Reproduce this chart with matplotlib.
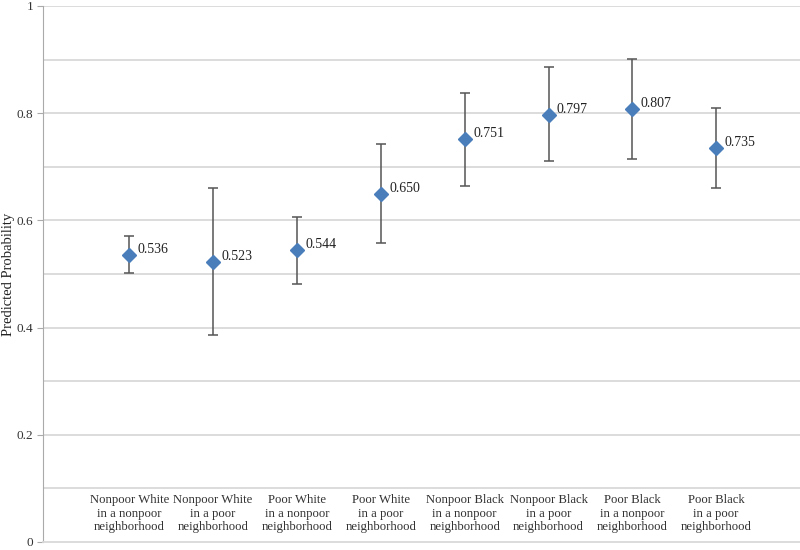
import matplotlib
matplotlib.use("Agg")
import matplotlib.pyplot as plt
import numpy as np

categories = [
    "Nonpoor White\nin a nonpoor\nneighborhood",
    "Nonpoor White\nin a poor\nneighborhood",
    "Poor White\nin a nonpoor\nneighborhood",
    "Poor White\nin a poor\nneighborhood",
    "Nonpoor Black\nin a nonpoor\nneighborhood",
    "Nonpoor Black\nin a poor\nneighborhood",
    "Poor Black\nin a nonpoor\nneighborhood",
    "Poor Black\nin a poor\nneighborhood",
]
values = [0.536, 0.523, 0.544, 0.650, 0.751, 0.797, 0.807, 0.735]
upper = [0.571, 0.660, 0.607, 0.742, 0.837, 0.887, 0.901, 0.809]
lower = [0.501, 0.387, 0.481, 0.557, 0.665, 0.710, 0.714, 0.661]
yticks = [0, 0.2, 0.4, 0.6, 0.8, 1]
ytick_labels = ["0", "0.2", "0.4", "0.6", "0.8", "1"]

plt.rcParams['font.family'] = ['Liberation Serif', 'DejaVu Serif']

fig = plt.figure(figsize=(8, 5.5), dpi=100)
ax = fig.add_axes([43/800, 8/550, 757/800, 536/550])

x = np.arange(len(values))
vals = np.array(values)
err = np.vstack([vals - np.array(lower), np.array(upper) - vals])

# gridlines every 0.1
for g in np.arange(0.1, 1.01, 0.1):
    ax.axhline(g, color="#d9d9d9", lw=1.3, zorder=0)

ax.errorbar(x, vals, yerr=err, fmt="none", ecolor="#555555", elinewidth=1.1,
            capsize=3.5, capthick=1.1, zorder=2)
ax.plot(x, vals, linestyle="none", marker="D", markersize=6.8,
        color="#4a7ebb", markeredgecolor="#4a7ebb", zorder=3)

for xi, v in zip(x, values):
    ax.annotate(f"{v:.3f}", (xi, v), xytext=(6, 4), textcoords="offset points",
                fontsize=10, color="#222222", ha="left", va="center")

for xi, c in zip(x, categories):
    ax.text(xi, 0.053, c, ha="center", va="center", fontsize=9.2,
            color="#333333", linespacing=1.2)

ax.set_xlim(-1.03, 8.0)
ax.set_ylim(0, 1)
ax.set_yticks(yticks)
ax.set_yticklabels(ytick_labels, fontsize=9.5, color="#333333")
ax.set_xticks([])
ax.tick_params(axis="y", length=4, color="#aaaaaa", pad=3)

for s in ["top", "right"]:
    ax.spines[s].set_visible(False)
ax.spines["left"].set_color("#aaaaaa")
ax.spines["bottom"].set_color("#d9d9d9")
ax.spines["bottom"].set_linewidth(1.3)

ax.set_ylabel("Predicted Probability", fontsize=10.5, color="#222222",
              va="center")
ax.yaxis.set_label_coords(-0.046, 0.5)

fig.savefig("out.png", dpi=100)
